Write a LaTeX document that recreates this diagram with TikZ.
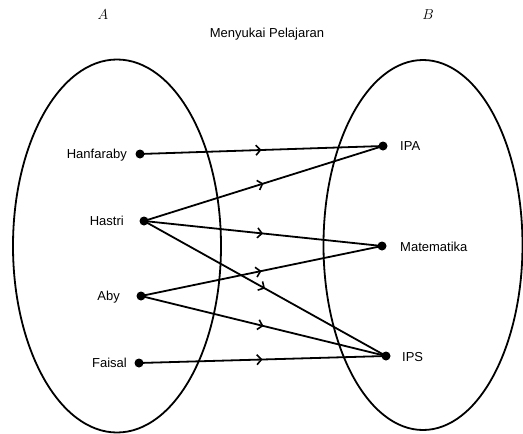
\documentclass[tikz,border=0pt]{standalone}
\usepackage{fontspec}
\setmainfont{Liberation Sans}
\usetikzlibrary{shapes.geometric,arrows.meta,decorations.markings}
\begin{document}
\begin{tikzpicture}[x=1pt,y=-1pt,
  setshape/.style={draw,ellipse,line width=1.8pt,inner sep=0pt},
  dotnode/.style={circle,fill=black,inner sep=0pt,minimum size=9pt},
  txt/.style={inner sep=0pt,font=\fontsize{13}{15}\selectfont},
  maplink/.style={line width=1.8pt,decoration={markings,
     mark=at position 0.5 with {\arrow{Straight Barb[length=4.5pt,width=10pt,line width=1.6pt]}}},
     postaction={decorate}}]
\useasboundingbox (0,0) rectangle (523,434);
% sets
\node[setshape,minimum width=208pt,minimum height=373pt] (setA) at (117,246) {};
\node[setshape,minimum width=199pt,minimum height=370pt] (setB) at (423,245) {};
% titles
\node[inner sep=0pt,font=\fontsize{14}{16}\selectfont] (labA) at (103,15) {$A$};
\node[inner sep=0pt,font=\fontsize{14}{16}\selectfont] (labB) at (428,15) {$B$};
\node[txt,anchor=base] (title) at (267,37.5) {Menyukai Pelajaran};
% domain dots
\node[dotnode] (hanf) at (140,154) {};
\node[dotnode] (hast) at (144,221) {};
\node[dotnode] (aby)  at (141,296) {};
\node[dotnode] (fais) at (139,363) {};
% codomain dots
\node[dotnode] (ipa) at (383,146) {};
\node[dotnode] (mat) at (382,246) {};
\node[dotnode] (ips) at (386,356) {};
% labels
\node[txt,anchor=base east] (thanf) at (127,158.6) {Hanfaraby};
\node[txt,anchor=base east] (thast) at (124,225.6) {Hastri};
\node[txt,anchor=base east] (taby)  at (120,300.6) {Aby};
\node[txt,anchor=base east] (tfais) at (127,367.6) {Faisal};
\node[txt,anchor=base west] (tipa) at (400,150.6) {IPA};
\node[txt,anchor=base west] (tmat) at (400,251.6) {Matematika};
\node[txt,anchor=base west] (tips) at (402,361.6) {IPS};
% mappings
\draw[maplink] (hanf.center) -- (ipa.center);
\draw[maplink] (hast.center) -- (ipa.center);
\draw[maplink] (hast.center) -- (mat.center);
\draw[maplink] (hast.center) -- (ips.center);
\draw[maplink] (aby.center) -- (mat.center);
\draw[maplink] (aby.center) -- (ips.center);
\draw[maplink] (fais.center) -- (ips.center);
\end{tikzpicture}
\end{document}
